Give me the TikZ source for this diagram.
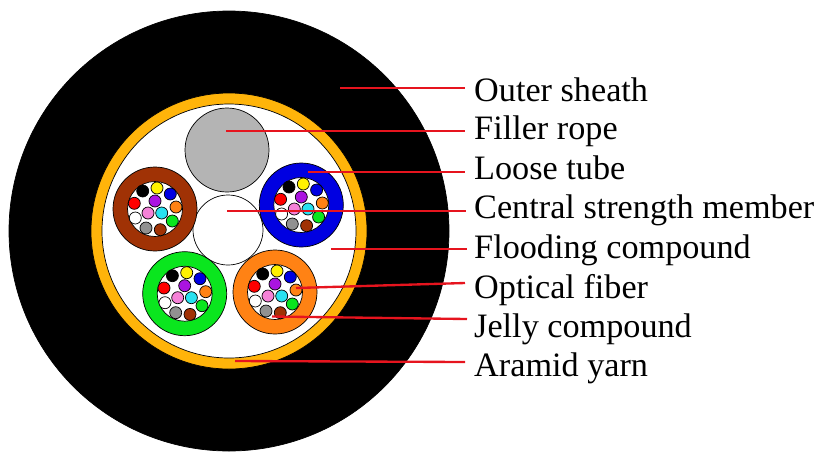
\documentclass[tikz,border=0pt]{standalone}
\usepackage{fontspec}
\setmainfont{Liberation Serif}
\definecolor{yarn}{RGB}{255,180,10}
\definecolor{rope}{RGB}{180,180,180}
\definecolor{leader}{RGB}{230,20,30}
\definecolor{tubebrown}{RGB}{160,50,5}
\definecolor{tubeblue}{RGB}{0,0,225}
\definecolor{tubegreen}{RGB}{10,230,30}
\definecolor{tubeorange}{RGB}{255,130,20}
\definecolor{fibpurple}{RGB}{170,20,225}
\definecolor{fibpink}{RGB}{245,130,215}
\definecolor{fibcyan}{RGB}{40,225,240}
\definecolor{fibgray}{RGB}{145,145,145}
\tikzset{
	disc/.style={draw, circle, line width=0.6pt, inner sep=0pt, minimum size=#1*0.06cm},
	fiber/.style={draw, circle, line width=0.6pt, inner sep=0pt, minimum size=0.36cm},
	label/.style={anchor=base west, inner sep=0pt, font=\fontsize{29.2}{29.2}\selectfont},
	leader/.style={draw=leader, line width=2pt},
}
% one tube: name, colour, centre
\newcommand{\tube}[3]{
	\node[disc=42, fill=#2] (#1) at (#3) {};
	\node[disc=27.5, fill=white] (#1in) at (#3) {};
	\foreach \fx/\fy/\fc [count=\n] in {-12.3/-18/black, 2/-21/yellow, 15.3/-15/tubeblue, -20.7/-5.7/red, 0/-8/fibpurple, 21/-2/tubeorange, -7/4/fibpink, 6.7/4/fibcyan, -19.7/9/white, 17.3/12/tubegreen, -9/19/fibgray, 5.3/20.7/tubebrown}
		\node[fiber, fill=\fc, xshift=\fx*0.03cm, yshift=-\fy*0.03cm] (#1f\n) at (#3) {};
}

\begin{document}
\begin{tikzpicture}[x=0.03cm, y=-0.03cm]
	\useasboundingbox (0,0) rectangle (834,462);
	\node[disc=220, fill=black] (sheath) at (229,231) {};
	\node[disc=138, fill=yarn] (aramid) at (229,231) {};
	\node[disc=127, fill=white] (flood) at (229,231) {};
	\node[disc=42, fill=rope] (filler) at (227,150) {};
	\node[disc=35, fill=white] (center) at (228,230) {};
	\tube{brown}{tubebrown}{155,209}
	\tube{blue}{tubeblue}{301.3,205}
	\tube{green}{tubegreen}{184.7,293.7}
	\tube{orange}{tubeorange}{275,292}

	\node[label] (t1) at (474,101) {Outer sheath};
	\node[label] (t2) at (474,139.5) {Filler rope};
	\node[label] (t3) at (474,179) {Loose tube};
	\node[label] (t4) at (474,218) {Central strength member};
	\node[label] (t5) at (474,258) {Flooding compound};
	\node[label] (t6) at (474,298) {Optical fiber};
	\node[label] (t7) at (474,337.5) {Jelly compound};
	\node[label] (t8) at (474,376.5) {Aramid yarn};

	\coordinate (e1) at (465,88);
	\coordinate (e2) at (465,131);
	\coordinate (e3) at (465,172);
	\coordinate (e4) at (466,211);
	\coordinate (e5) at (467,249);
	\coordinate (e6) at (465,283);
	\coordinate (e7) at (467,319);
	\coordinate (e8) at (465,362);
	\coordinate (s1) at (340,88);
	\coordinate (s2) at (226,131);
	\coordinate (s3) at (308,172);
	\coordinate (s4) at (227,211);
	\coordinate (s5) at (331,249);
	\coordinate (s6) at (296,288);
	\coordinate (s7) at (272,316.5);
	\coordinate (s8) at (235,361);
	\foreach \n in {1,...,8}
		\draw[leader] (s\n) -- (e\n);
\end{tikzpicture}
\end{document}
